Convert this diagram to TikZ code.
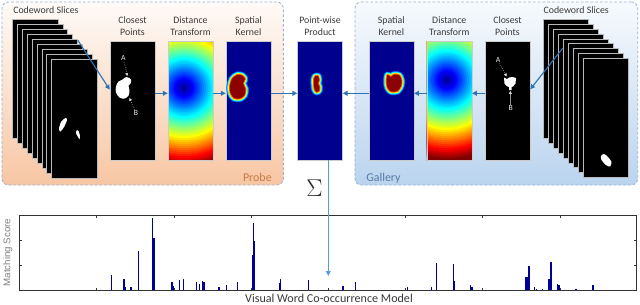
\documentclass[tikz,border=0pt]{standalone}
\usepackage{fontspec}
\setmainfont{Carlito}
\newfontfamily\arialfont{Liberation Sans}
\usepackage{tikz}
\usetikzlibrary{arrows.meta,positioning,calc}

\definecolor{arrowblue}{HTML}{2E75B6}
\definecolor{sumblue}{HTML}{5B9BD5}
\definecolor{panelline}{HTML}{9AB4D8}
\definecolor{probefill}{HTML}{F7C6A3}
\definecolor{galleryfill}{HTML}{BAD4EE}
\definecolor{probetext}{HTML}{C77B45}
\definecolor{gallerytext}{HTML}{5A7BA6}
\definecolor{textgray}{HTML}{3A3A3A}
\definecolor{jetbg}{rgb}{0,0,0.56}
\definecolor{jetend}{rgb}{0.5,0,0}
\definecolor{barblue}{rgb}{0,0,0.6}
\definecolor{halo1}{rgb}{0,0.35,1}
\definecolor{halo2}{rgb}{0,0.95,1}
\definecolor{halo3}{rgb}{1,1,0}
\definecolor{halo4}{rgb}{1,0.35,0}
\definecolor{halocore}{rgb}{0.55,0,0}

\newcommand\jetfield[1]{%
  \fill[jetend] #1 circle (4cm);
  \foreach \k in {40,39,...,1}{
    \pgfmathsetmacro\rr{max(0,min(1,1.5-abs(4*\k/40-3)))}
    \pgfmathsetmacro\gg{max(0,min(1,1.5-abs(4*\k/40-2)))}
    \pgfmathsetmacro\bb{max(0,min(1,1.5-abs(4*\k/40-1)))}
    \fill[fill={rgb,1:red,\rr;green,\gg;blue,\bb}] #1 circle ({\k*0.05cm});
  }}
\newcommand\kernelblob[1]{%
  \foreach \w/\c in {7/halo1,5.5/halo2,3.5/halo3,1.8/halo4}{
    \draw[\c, line width=\w*0.025cm, line join=round] plot[smooth cycle] coordinates {#1};
  }
  \fill[halocore] plot[smooth cycle] coordinates {#1};}

\begin{document}
\begin{tikzpicture}[x=0.025cm, y=-0.025cm,
    panel/.style={rectangle, draw=panelline, dash pattern=on 2pt off 1.4pt, line width=0.6pt, rounded corners=0.16cm, minimum height=4.575cm, inner sep=0pt},
    probe/.style={panel, top color=probefill!8, bottom color=probefill, minimum width=7.0325cm},
    gallery/.style={panel, top color=galleryfill!12, bottom color=galleryfill, minimum width=7.0675cm},
    slicebox/.style={rectangle, draw=gray!55, fill=black, line width=0.45pt, minimum width=1.135cm, minimum height=2.975cm, inner sep=0pt},
    imgbox/.style={rectangle, draw=gray!40, line width=0.4pt, minimum width=1.125cm, minimum height=2.975cm, inner sep=0pt},
    ptbox/.style={imgbox, fill=black},
    kbox/.style={imgbox, fill=jetbg},
    caption/.style={align=center, font=\fontsize{7}{8.6}\selectfont, text=textgray, inner sep=0pt},
    panellabel/.style={font=\fontsize{8.5}{10}\selectfont, inner sep=0pt},
    ptlabel/.style={font=\fontsize{5.5}{6}\selectfont, text=gray!15, inner sep=0.5pt},
    ptarrow/.style={-{Triangle[length=2pt,width=2pt]}, densely dotted, draw=gray!25, line width=0.35pt},
    arrow/.style={-{Triangle[length=3.4pt,width=3.4pt]}, line width=0.8pt, draw=arrowblue},
    sumarrow/.style={-{Triangle[length=3.4pt,width=3.2pt]}, line width=0.7pt, draw=sumblue},
    chart/.style={rectangle, draw=black!80, line width=0.6pt, minimum width=15.4175cm, minimum height=1.8925cm, inner sep=0pt},
    tickmark/.style={draw=black!80, line width=0.6pt},
    barfill/.style={fill=barblue}
]
    \useasboundingbox (0,0) rectangle (640,304);

    \node [probe] (probe) at (142.65,93.5) {};
    \node [gallery] (gallery) at (496.35,93.5) {};
    \node [panellabel, text=probetext, anchor=base east] (probename) at (272,181.5) {Probe};
    \node [panellabel, text=gallerytext, anchor=base west] (galleryname) at (366,181.5) {Gallery};

    % codeword slices
    \foreach \i in {0,...,8}
        \node [slicebox] (ls\i) at (35.35+4.875*\i,78.8+4.96*\i) {};
    \foreach \i in {0,...,8}
        \node [slicebox] (rs\i) at (566.1+4.93*\i,78.8+4.9*\i) {};
    \fill [white] plot[smooth cycle] coordinates {(65.5,118) (67,120) (64,127) (60.5,131.5) (59,129) (61,122)};
    \fill [white] plot[smooth cycle] coordinates {(77,130) (78.5,131) (80,136) (79.5,139) (78,137) (76,133)};
    \fill [white] plot[smooth cycle] coordinates {(601,156) (604,154) (608,157) (611.5,162) (610,166.5) (606,165) (601.5,160)};
    \node [caption, anchor=base west] (lcw) at (13,13) {Codeword Slices};
    \node [caption, anchor=base west] (rcw) at (543.3,13) {Codeword Slices};

    % closest points
    \node [ptbox] (cp1) at (132.5,100.5) {};
    \node [ptbox] (cp2) at (507.5,100.5) {};
    \fill [white] plot[smooth cycle, tension=0.6] coordinates {(126.5,77) (131,79.5) (130.5,83.5) (128.5,85.5) (129.5,90.5) (128.5,95.5) (124.5,98.5) (119.5,97.5) (116,92.5) (116,86.5) (118.5,81.5) (122.5,79.5)};
    \fill [white] (504,77.5) -- (507,79) -- (509,77.5) -- (513,77) -- (516,78) -- (515.5,83.5) -- (513,86.5) -- (511.5,87) -- (511.5,90) -- (509,90) -- (509,87) -- (506.5,86) -- (504.5,83.5) -- cycle;
    \node [ptlabel] (a1) at (123.3,58.5) {A};
    \node [ptlabel] (b1) at (136,113.3) {B};
    \node [ptlabel] (a2) at (498,60) {A};
    \node [ptlabel] (b2) at (510.7,108.3) {B};
    \coordinate (a1t) at (127.3,76);
    \coordinate (b1t) at (129.5,98);
    \coordinate (a2t) at (506.5,76.5);
    \coordinate (b2t) at (510.3,91);
    \draw [ptarrow] (a1) -- (a1t);
    \draw [ptarrow] (b1) -- (b1t);
    \draw [ptarrow] (a2) -- (a2t);
    \draw [ptarrow, solid] (b2) -- (b2t);

    % distance transforms
    \begin{scope}
        \clip (168,41) rectangle (213,160);
        \jetfield{(184,88)}
    \end{scope}
    \begin{scope}
        \clip (426.8,41) rectangle (471.8,160);
        \jetfield{(447,80)}
    \end{scope}
    \node [imgbox] (dt1) at (190.5,100.5) {};
    \node [imgbox] (dt2) at (449.3,100.5) {};

    % spatial kernels and product
    \node [kbox] (sk1) at (248.5,100.5) {};
    \node [kbox] (pp) at (320,100.5) {};
    \node [kbox] (sk2) at (391.3,100.5) {};
    \kernelblob{(237,75) (242,75.5) (245,79) (243,83.5) (245.5,89) (244.5,95) (240,98.5) (234,98) (230.5,93) (230,86) (232,79)}
    \kernelblob{(387.5,75) (391,77) (394,74.5) (399.5,75.5) (401.5,80.5) (401,86) (397.5,91) (391,91.5) (387.5,87.5) (386.5,81.5)}
    \kernelblob{(315.5,76) (318,76) (319,80) (318,83.5) (319.5,87) (319,91) (316.5,92) (314.5,89) (314,84) (314,79)}

    \node [caption, above=0.125cm of cp1] (cp1name) {Closest\\Points};
    \node [caption, above=0.125cm of dt1] (dt1name) {Distance\\Transform};
    \node [caption, above=0.125cm of sk1] (sk1name) {Spatial\\Kernel};
    \node [caption, above=0.125cm of pp] (ppname) {Point-wise\\Product};
    \node [caption, above=0.125cm of sk2] (sk2name) {Spatial\\Kernel};
    \node [caption, above=0.125cm of dt2] (dt2name) {Distance\\Transform};
    \node [caption, above=0.125cm of cp2] (cp2name) {Closest\\Points};

    \draw [arrow] ([shift={(0,1.5)}]ls4.north east) -- ([yshift=0.27cm]cp1.west);
    \draw [arrow] ([shift={(0,9.5)}]rs4.north west) -- ([yshift=0.28cm]cp2.east);
    \draw [arrow] ([yshift=0.18cm]cp1.east) -- ([yshift=0.18cm]dt1.west);
    \draw [arrow] ([yshift=0.18cm]dt1.east) -- ([yshift=0.18cm]sk1.west);
    \draw [arrow] ([yshift=0.18cm]sk1.east) -- ([yshift=0.18cm]pp.west);
    \draw [arrow] ([yshift=0.18cm]cp2.west) -- ([yshift=0.18cm]dt2.east);
    \draw [arrow] ([yshift=0.18cm]dt2.west) -- ([yshift=0.18cm]sk2.east);
    \draw [arrow] ([yshift=0.18cm]sk2.west) -- ([yshift=0.18cm]pp.east);

    % matching score chart
    \foreach \x/\h in {111.7/15.4, 124/11.7, 125.5/4, 131/3.4, 138.3/40, 152.3/72.4, 153.8/53, 172/8.7, 173.3/5, 179.3/10.7, 183.7/12, 196.7/8.7, 199.3/6.7, 202.3/9.4, 204/9, 219/4, 226.3/5.4, 237.3/9, 252.3/35.7, 253.5/67.4, 254.5/50, 269.3/1, 280/8, 280.7/12, 300.7/1, 308.7/10.4, 343/4.7, 355.7/8.7, 372.3/1, 407.7/3.4, 431.7/3.4, 436.7/27.4, 453.7/26.7, 454.7/10, 470.7/6, 472/4, 505.7/1, 526/14, 527.5/14, 529/24.7, 534.3/3.4, 536.5/1.5, 542.3/2, 549/11.7, 551/28.4, 557.3/6.7, 559/6, 576/2, 586/1, 593/6}
        \fill [barfill] (\x-0.7,290.7) rectangle (\x+0.7,290.7-\h);
    \node [chart] (plot) at (328.35,252.85) {};
    \foreach \i in {1,...,7}{
        \draw [tickmark] ($(plot.south west)!\i/8!(plot.south east)$) -- ++(0,-3);
        \draw [tickmark] ($(plot.north west)!\i/8!(plot.north east)$) -- ++(0,3);
    }
    \foreach \j in {1,2}{
        \draw [tickmark] ($(plot.south west)!\j/3!(plot.north west)$) -- ++(3,0);
        \draw [tickmark] ($(plot.south east)!\j/3!(plot.north east)$) -- ++(-3,0);
    }
    \node [rotate=90, font=\arialfont\fontsize{6.9}{8}\selectfont, text=gray] (yname) at (7.8,252.5) {Matching Score};
    \node [font=\fontsize{8.6}{10}\selectfont, text=textgray, inner sep=0pt] (xname) at (329,298.2) {Visual Word Co-occurrence Model};

    \coordinate (hit) at (328.35,276);
    \draw [sumarrow] (pp.south -| hit) -- (hit);
    \node [font=\LARGE, text=textgray!70!black, inner sep=0pt] (sum) at (314.5,188) {$\Sigma$};
\end{tikzpicture}
\end{document}
